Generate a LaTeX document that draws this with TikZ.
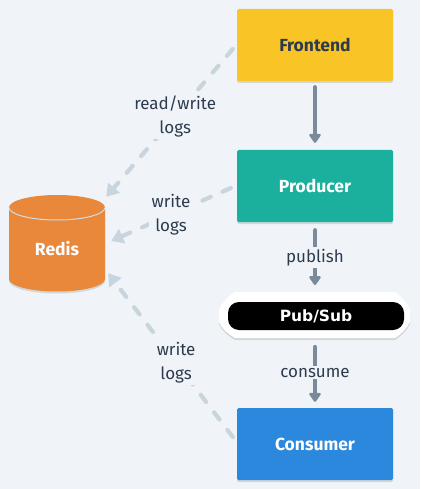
\documentclass[tikz,border=0pt]{standalone}
\usepackage{fontspec}
\setmainfont{Fira Sans}
\newfontfamily\pillfont{DejaVu Sans}
\usetikzlibrary{arrows.meta,calc,shadows}
\definecolor{bgc}{HTML}{F0F4F8}
\definecolor{inkc}{HTML}{2D3B4E}
\definecolor{greyc}{HTML}{7B8A9B}
\definecolor{lightc}{HTML}{C8D5DF}
\definecolor{yellowc}{HTML}{F9C425}
\definecolor{tealc}{HTML}{1AB09D}
\definecolor{bluec}{HTML}{2B88DC}
\definecolor{orangec}{HTML}{E9873B}
\tikzset{
  softshadow/.style={drop shadow={shadow xshift=0pt,shadow yshift=-2pt,opacity=.12,fill=black}},
  servicebox/.style={rectangle,rounded corners=1.5pt,minimum width=156pt,minimum height=72pt,inner sep=0pt,softshadow,font=\fontsize{17.5}{20}\selectfont\bfseries},
  flowline/.style={draw=greyc,line width=4.2pt,line cap=round,-{Triangle[width=13pt,length=10pt,round=false]}},
  logline/.style={draw=lightc,line width=4.2pt,dash pattern=on 9pt off 13pt,line cap=round,-{Triangle[width=15pt,length=12pt]}},
  edgetext/.style={fill=bgc,text=inkc,align=center,inner xsep=3pt,inner ysep=2pt,font=\fontsize{17}{24}\selectfont},
}
\begin{document}
\begin{tikzpicture}[x=1pt,y=-1pt]
\fill[bgc] (0,0) rectangle (420,489);
\useasboundingbox (0,0) rectangle (420,489);
% nodes
\node[servicebox,fill=yellowc,text=inkc] (fe) at (315,45) {Frontend};
\node[servicebox,fill=tealc,text=white] (prod) at (315,186) {Producer};
\node[servicebox,fill=bluec,text=white] (cons) at (315,444) {Consumer};
% Pub/Sub
\fill[white,softshadow] (235,292) -- (395,292) .. controls (401,296) and (407,303) .. (410,310) -- (410,322) .. controls (407,329) and (401,334) .. (395,338) -- (235,338) .. controls (228,334) and (222,329) .. (219,322) -- (219,310) .. controls (222,303) and (228,296) .. (235,292) -- cycle;
\node[rectangle,rounded corners=11pt,fill=black,text=white,minimum width=176pt,minimum height=28pt,inner sep=0pt,font=\pillfont\fontsize{15.5}{18}\selectfont\bfseries] (pub) at (316,316) {Pub/Sub};
\coordinate (pubtop) at (315,292);
\coordinate (pubbot) at (315,338);
% Redis
\fill[orangec,softshadow] (9,207.5) -- (9,279) arc[start angle=180,end angle=0,x radius=48,y radius=12.5] -- (105,207.5) arc[start angle=0,end angle=-180,x radius=48,y radius=12.5] -- cycle;
\draw[draw=lightc!80!white,line width=1pt] (9,207.5) arc[start angle=180,end angle=0,x radius=48,y radius=12.5];
\node[inner sep=0pt,minimum width=96pt,minimum height=96pt,text=white,font=\fontsize{17.5}{20}\selectfont\bfseries] (redis) at (57,249) {Redis};
% flow connectors
\draw[flowline] ($(fe.south)+(0,6)$) -- ($(prod.north)+(0,-7)$);
\draw[flowline] ($(prod.south)+(0,8)$) -- node[edgetext,pos=.5] {publish} ($(pubtop)+(0,-7)$);
\draw[flowline] ($(pubbot)+(0,9)$) -- node[edgetext,pos=.47] {consume} ($(cons.north)+(0,-6)$);
% log connectors
\draw[logline] ($(fe.west)+(-4,4)$) -- node[edgetext,pos=.455] {read/write\\logs} ($(redis.north east)+(1,-4)$);
\draw[logline] ($(prod.west)+(-6,2)$) -- node[edgetext,pos=.5] {write\\logs} ($(redis.east)+(6,-8)$);
\draw[logline] ($(cons.west)+(-4,-7)$) -- node[edgetext,pos=.455] {write\\logs} ($(redis.south east)+(3,-24)$);
\end{tikzpicture}
\end{document}
